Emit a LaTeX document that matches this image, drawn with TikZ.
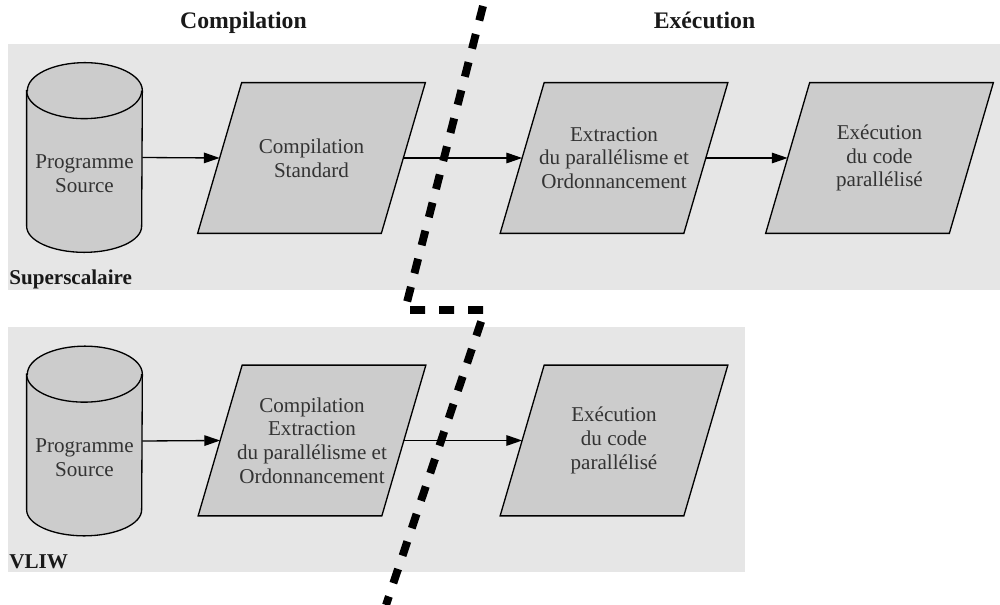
\documentclass[tikz,border=0pt]{standalone}
\usepackage{fontspec}
\setmainfont{Liberation Serif}
\usetikzlibrary{arrows.meta,backgrounds}
\definecolor{panelgray}{HTML}{E6E6E6}
\definecolor{boxgray}{HTML}{CCCCCC}
\definecolor{textgray}{HTML}{333333}

\begin{document}
\begin{tikzpicture}[
  stage/.style={minimum width=4.54cm, minimum height=3cm, inner sep=0pt, align=center, text=textgray},
  slab/.style={draw, fill=boxgray, line width=0.75pt},
  store/.style={minimum width=2.3cm, minimum height=3.78cm, inner sep=0pt},
  drum/.style={line width=0.75pt, fill=boxgray},
  srctext/.style={align=center, text=textgray},
  heading/.style={anchor=base, font=\fontsize{13.5}{16}\selectfont\bfseries, text=black!90},
  tag/.style={anchor=base west, inner sep=0pt, font=\fontsize{12}{14}\selectfont\bfseries, text=black!90},
  flow/.style={-{Triangle[length=9pt,width=6pt]}, line width=0.75pt},
  cut/.style={line width=4.5pt, dash pattern=on 0.3cm off 0.28cm},
  every node/.style={font=\fontsize{12}{13.5}\selectfont},
]
\useasboundingbox (0,0) rectangle (20,-12.1);

% Background panels
\begin{scope}[on background layer]
  \fill[panelgray] (0.16,-0.88) rectangle (20,-5.8);
  \fill[panelgray] (0.16,-6.54) rectangle (14.9,-11.44);
\end{scope}

% Headings and panel labels
\node[heading] (hcomp) at (4.87,-0.58) {Compilation};
\node[heading] (hexec) at (14.09,-0.58) {Exécution};
\node[tag] (lsup) at (0.18,-5.7) {Superscalaire};
\node[tag] (lvliw) at (0.18,-11.36) {VLIW};

% Source programs (cylinders drawn around the nodes)
\node[store] (src1) at (1.69,-3.15) {};
\node[store] (src2) at (1.69,-8.82) {};
\foreach \s in {src1,src2} {
  \draw[drum] ([yshift=-0.56cm]\s.north west) -- ([yshift=0.52cm]\s.south west)
    arc[start angle=180, end angle=360, x radius=1.15cm, y radius=0.52cm]
    -- ([yshift=-0.56cm]\s.north east)
    arc[start angle=0, end angle=180, x radius=1.15cm, y radius=0.56cm] -- cycle;
  \draw[line width=0.75pt] ([yshift=-0.56cm]\s.north west)
    arc[start angle=180, end angle=360, x radius=1.15cm, y radius=0.56cm];
}
\node[srctext] (src1txt) at ([yshift=-0.33cm]src1.center) {Programme\\Source};
\node[srctext] (src2txt) at ([yshift=-0.33cm]src2.center) {Programme\\Source};

% Superscalaire chain
\node[stage] (comp1) at (6.23,-3.16) {Compilation\\Standard};
\node[stage] (extr1) at (12.28,-3.16) {Extraction\\du parallélisme et\\Ordonnancement};
\node[stage] (exec1) at (17.59,-3.16) {Exécution\\du code\\parallélisé};

% VLIW chain
\node[stage] (comp2) at (6.24,-8.81) {Compilation\\Extraction\\du parallélisme et\\Ordonnancement};
\node[stage] (exec2) at (12.28,-8.81) {Exécution\\du code\\parallélisé};

% Slanted boxes behind the stage texts
\begin{scope}[on background layer]
  \foreach \s in {comp1,extr1,exec1,comp2,exec2}
    \draw[slab] ([xshift=0.88cm]\s.north west) -- (\s.north east)
      -- ([xshift=-0.88cm]\s.south east) -- (\s.south west) -- cycle;
\end{scope}

% Arrows
\draw[flow] (src1.east) -- ([xshift=0.44cm]comp1.west);
\draw[flow] ([xshift=-0.44cm]comp1.east) -- ([xshift=0.44cm]extr1.west);
\draw[flow] ([xshift=-0.44cm]extr1.east) -- ([xshift=0.44cm]exec1.west);
\draw[flow] (src2.east) -- ([xshift=0.44cm]comp2.west);
\draw[flow] ([xshift=-0.44cm]comp2.east) -- ([xshift=0.44cm]exec2.west);

% Compile time / run time boundary
\coordinate (cuttop) at (9.66,-0.12);
\coordinate (cutmid) at (8.1,-6.2);
\coordinate (cutbend) at (9.7,-6.2);
\coordinate (cutend) at (7.72,-12.1);
\draw[cut] (cuttop) -- (cutmid) -- (cutbend) -- (cutend);

\end{tikzpicture}
\end{document}
